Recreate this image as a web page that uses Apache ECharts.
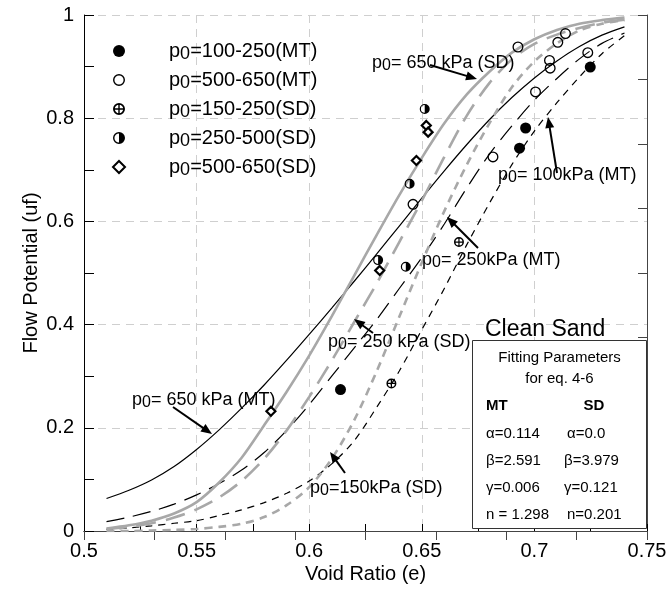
<!DOCTYPE html>
<html><head><meta charset="utf-8">
<script src="https://cdn.jsdelivr.net/npm/echarts@6/dist/echarts.min.js"></script>
<style>html,body{margin:0;padding:0;background:#fff}#c{width:668px;height:589px}</style>
</head><body><div id="c"></div>
<script>
// ---------- data ----------
const xTicks = [0.5, 0.55, 0.6, 0.65, 0.7, 0.75];
const yTicks = [0, 0.2, 0.4, 0.6, 0.8, 1];
const curveX = [0.51,0.52,0.53,0.54,0.55,0.56,0.57,0.58,0.59,0.60,0.61,0.62,0.63,0.64,0.65,0.66,0.67,0.68,0.69,0.70,0.71,0.72,0.73,0.74];
const mt650 = [0.063,0.079,0.099,0.125,0.158,0.196,0.238,0.283,0.331,0.381,0.432,0.484,0.537,0.591,0.645,0.698,0.749,0.797,0.840,0.878,0.911,0.939,0.961,0.977];
const mt250 = [0.018,0.027,0.038,0.052,0.07,0.092,0.118,0.152,0.195,0.245,0.30,0.355,0.41,0.47,0.53,0.595,0.665,0.73,0.785,0.835,0.877,0.915,0.945,0.965];
const mt100 = [0.003,0.006,0.01,0.015,0.02,0.03,0.041,0.055,0.073,0.097,0.13,0.175,0.24,0.31,0.39,0.47,0.555,0.635,0.71,0.775,0.83,0.88,0.925,0.96];
const sd650 = [0.005,0.011,0.020,0.034,0.056,0.094,0.142,0.205,0.27,0.34,0.416,0.495,0.574,0.651,0.723,0.79,0.846,0.89,0.927,0.953,0.971,0.983,0.99,0.995];
const sd250 = [0.004,0.008,0.015,0.026,0.042,0.065,0.097,0.14,0.195,0.26,0.33,0.405,0.48,0.56,0.64,0.725,0.805,0.868,0.914,0.944,0.962,0.975,0.985,0.991];
const sd150 = [0.0,0.0,0.001,0.002,0.004,0.008,0.014,0.027,0.05,0.085,0.14,0.215,0.31,0.415,0.52,0.62,0.71,0.79,0.86,0.91,0.945,0.97,0.983,0.99];

const filledMTx = [0.6139, 0.6934, 0.6961, 0.7248];
const filledMTy = [0.274, 0.742, 0.781, 0.899];
const openMTx = [0.6461, 0.6816, 0.6927, 0.7005, 0.7067, 0.7070, 0.7104, 0.7138, 0.7237];
const openMTy = [0.633, 0.725, 0.938, 0.851, 0.912, 0.897, 0.947, 0.964, 0.927];
const plusSDx = [0.6365, 0.6665];
const plusSDy = [0.286, 0.56];
const halfSDx = [0.6306, 0.6429, 0.6446, 0.6513];
const halfSDy = [0.525, 0.512, 0.673, 0.818];
const diaSDx = [0.583, 0.6313, 0.6476, 0.652, 0.6528];
const diaSDy = [0.232, 0.505, 0.718, 0.786, 0.773];

const legendNames = ['p0=100-250(MT)', 'p0=500-650(MT)', 'p0=150-250(SD)', 'p0=250-500(SD)', 'p0=500-650(SD)'];

// ---------- styling ----------
const FONT = '"Liberation Sans", Arial, Helvetica, sans-serif';
const GRAY = '#a8a8a8';
const RING = 'path://M10,0A10,10 0 1,1 10,20A10,10 0 1,1 10,0Z M10,2.4A7.6,7.6 0 1,0 10,17.6A7.6,7.6 0 1,0 10,2.4Z';
const PLUS = 'path://M10,0A10,10 0 1,1 10,20A10,10 0 1,1 10,0Z M10,3A7,7 0 1,0 10,17A7,7 0 1,0 10,3Z' +
  ' M8.8,3L11.2,3L11.2,17L8.8,17Z M3,8.8L17,8.8L17,11.2L3,11.2Z';
const HALF = RING + ' M10,2.4A7.6,7.6 0 0,1 10,17.6Z';

function pts(ys) { return curveX.map((x, i) => [x, ys[i]]); }
function zip(xs, ys) { return xs.map((x, i) => [x, ys[i]]); }
function lineSeries(name, ys, color, width, dash) {
  return { name, type: 'line', data: pts(ys), showSymbol: false, smooth: 0.3, silent: true,
    lineStyle: { color, width, type: dash, cap: 'butt', opacity: 1 }, z: 2, xAxisIndex: 0, yAxisIndex: 0 };
}
function scat(name, xs, ys, symbol, size, itemStyle) {
  return { name, type: 'scatter', data: zip(xs, ys), symbol, symbolSize: size,
    itemStyle: Object.assign({ opacity: 1 }, itemStyle), z: 5,
    xAxisIndex: 0, yAxisIndex: 0, silent: true };
}
const fmt = v => String(+(+v).toFixed(3));

const chart = echarts.init(document.getElementById('c'));
const option = {
  animation: false,
  backgroundColor: '#fff',
  textStyle: { fontFamily: FONT },
  grid: { left: 84, right: 21, top: 15, bottom: 58, containLabel: false, outerBoundsMode: 'none' },
  xAxis: [
    { type: 'value', position: 'bottom', min: xTicks[0], max: xTicks[xTicks.length - 1], interval: 0.05,
      axisLine: { lineStyle: { color: '#000', width: 1 } },
      axisTick: { inside: true, length: 7, lineStyle: { color: '#000' } },
      minorTick: { show: true, splitNumber: 2, length: 7, lineStyle: { color: '#000' } },
      axisLabel: { formatter: fmt, fontSize: 20, color: '#000', margin: 10, fontFamily: FONT },
      splitLine: { show: true, lineStyle: { color: '#cfcfcf', type: [8, 6], width: 1 } },
      name: 'Void Ratio (e)', nameLocation: 'middle', nameGap: 33, nameMoveOverlap: false,
      nameTextStyle: { fontSize: 20, color: '#000', fontFamily: FONT } },
    { type: 'value', position: 'top', min: 0, max: 8, interval: 1,
      axisLine: { show: true, lineStyle: { color: '#444', width: 1 } },
      axisTick: { show: true, inside: true, length: 9, lineStyle: { color: '#444' } },
      axisLabel: { show: false }, splitLine: { show: false } }
  ],
  yAxis: [
    { type: 'value', position: 'left', min: yTicks[0], max: yTicks[yTicks.length - 1], interval: 0.2,
      axisLine: { show: true, lineStyle: { color: '#000', width: 1 } },
      axisTick: { show: true, inside: true, length: 10, lineStyle: { color: '#000' } },
      minorTick: { show: true, splitNumber: 2, length: 10, lineStyle: { color: '#000' } },
      axisLabel: { formatter: fmt, fontSize: 20, color: '#000', margin: 10, fontFamily: FONT },
      splitLine: { show: true, lineStyle: { color: '#cfcfcf', type: [8, 6], width: 1 } },
      name: 'Flow Potential (uf)', nameLocation: 'middle', nameGap: 43, nameRotate: 90, nameMoveOverlap: false,
      nameTextStyle: { fontSize: 20, color: '#000', fontFamily: FONT } },
    { type: 'value', position: 'right', min: 0, max: 8, interval: 1,
      axisLine: { show: true, lineStyle: { color: '#444', width: 1 } },
      axisTick: { show: true, inside: true, length: 9, lineStyle: { color: '#444' } },
      axisLabel: { show: false }, splitLine: { show: false } }
  ],
  legend: {
    data: legendNames, orient: 'vertical', left: 107, top: 36,
    itemWidth: 12, itemHeight: 12, itemGap: 7, selectedMode: false,
    formatter: n => '{g|}{a|p}{s|0}{a|' + n.slice(2) + '}',
    textStyle: {
      rich: {
        g: { width: 39 },
        a: { fontSize: 20, color: '#000', fontFamily: FONT },
        s: { fontSize: 18, color: '#000', fontFamily: FONT, padding: [6, 0, 0, 0] }
      }
    }
  },
  series: [
    lineSeries('650 MT', mt650, '#000', 1.2, 'solid'),
    lineSeries('250 MT', mt250, '#000', 1.2, [18, 9]),
    lineSeries('100 MT', mt100, '#000', 1.2, [7, 6]),
    lineSeries('650 SD', sd650, GRAY, 2.6, 'solid'),
    lineSeries('250 SD', sd250, GRAY, 2.6, [20, 10]),
    lineSeries('150 SD', sd150, GRAY, 2.6, [8, 6]),
    scat(legendNames[0], filledMTx, filledMTy, 'circle', 11, { color: '#000' }),
    scat(legendNames[1], openMTx, openMTy, RING, 11, { color: '#000' }),
    scat(legendNames[2], plusSDx, plusSDy, PLUS, 10, { color: '#000' }),
    scat(legendNames[3], halfSDx, halfSDy, HALF, 10, { color: '#000' }),
    scat(legendNames[4], diaSDx, diaSDy, 'diamond', 9, { color: '#fff', borderColor: '#000', borderWidth: 2.2 })
  ]
};
chart.setOption(option);

// ---------- annotations ----------
function label(x, y, rest, size) {
  return { type: 'text', z: 100, style: {
    x, y, text: '{a|p}{s|0}{a|' + rest + '}', verticalAlign: 'middle', align: 'left',
    rich: {
      a: { fontSize: size, fill: '#000', fontFamily: FONT },
      s: { fontSize: size - 2, fill: '#000', fontFamily: FONT, padding: [5, 0, 0, 0] }
    } } };
}
function arrow(x1, y1, x2, y2) {
  const dx = x2 - x1, dy = y2 - y1, L = Math.hypot(dx, dy), ux = dx / L, uy = dy / L;
  const hl = 11, hw = 4.5;
  const bx = x2 - ux * hl, by = y2 - uy * hl;
  return [
    { type: 'line', z: 100, shape: { x1, y1, x2: bx + ux * 1, y2: by + uy * 1 }, style: { stroke: '#000', lineWidth: 2 } },
    { type: 'polygon', z: 100, shape: { points: [[x2, y2], [bx - uy * hw, by + ux * hw], [bx + uy * hw, by - ux * hw]] }, style: { fill: '#000' } }
  ];
}
function txt(x, y, text, size, opts) {
  return { type: 'text', z: 101, style: Object.assign({ x, y, text, fontSize: size, fontFamily: FONT, fill: '#000', verticalAlign: 'middle', align: 'left' }, opts || {}) };
}
const g = [];
g.push(label(372, 63, '= 650 kPa (SD)', 18), ...arrow(430, 65, 477, 79));
g.push(label(498, 175, '= 100kPa (MT)', 18), ...arrow(557, 173, 548, 117));
g.push(label(422, 260, '= 250kPa (MT)', 18), ...arrow(478, 248, 447, 217));
g.push(label(328, 342, '= 250 kPa (SD)', 18), ...arrow(373, 333, 354, 319));
g.push(label(132, 400, '= 650 kPa (MT)', 18), ...arrow(173, 407, 212, 434));
g.push(label(310, 488, '=150kPa (SD)', 18), ...arrow(345, 473, 330, 452));
g.push(txt(485, 330, 'Clean Sand', 23));
g.push({ type: 'rect', z: 99, shape: { x: 472.5, y: 340.5, width: 174, height: 188 }, style: { fill: '#fff', stroke: '#333', lineWidth: 1 } });
g.push(txt(559.5, 358, 'Fitting Parameters', 15, { align: 'center' }));
g.push(txt(559.5, 379, 'for eq. 4-6', 15, { align: 'center' }));
g.push(txt(486, 406, 'MT', 15, { fontWeight: 'bold' }));
g.push(txt(594, 406, 'SD', 15, { fontWeight: 'bold', align: 'center' }));
const rowsY = [434, 461, 488, 515];
const mtParams = ['α=0.114', 'β=2.591', 'γ=0.006', 'n = 1.298'];
const sdParams = ['α=0.0', 'β=3.979', 'γ=0.121', 'n=0.201'];
const sdLeft = [567, 564, 564, 567];
rowsY.forEach((y, i) => { g.push(txt(486, y, mtParams[i], 15)); g.push(txt(sdLeft[i], y, sdParams[i], 15)); });
chart.setOption({ graphic: g });
</script></body></html>
